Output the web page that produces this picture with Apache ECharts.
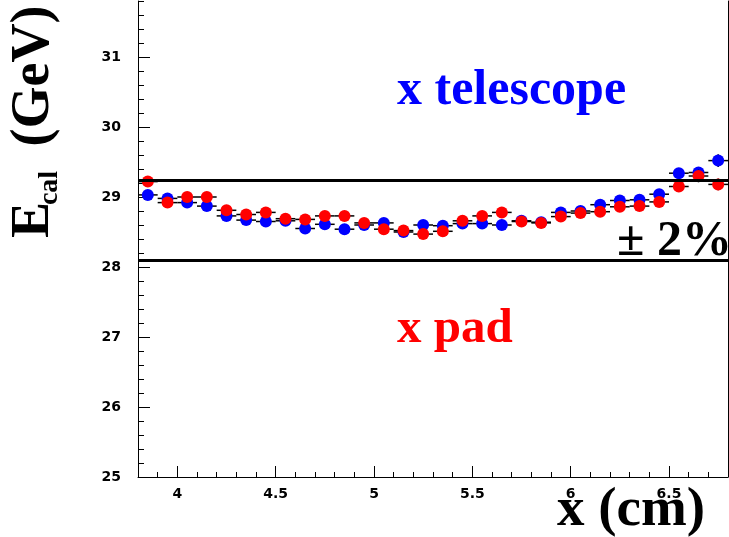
<!DOCTYPE html>
<html>
<head>
<meta charset="utf-8">
<script src="https://cdn.jsdelivr.net/npm/echarts@6/dist/echarts.min.js"></script>
<style>
  html, body { margin: 0; padding: 0; background: #ffffff; }
  #chart { width: 729px; height: 537px; }
</style>
</head>
<body>
<div id="chart"></div>
<script>
// Bin centres along x (cm)
const xCenters = [3.85, 3.95, 4.05, 4.15, 4.25, 4.35, 4.45, 4.55, 4.65, 4.75,
                  4.85, 4.95, 5.05, 5.15, 5.25, 5.35, 5.45, 5.55, 5.65, 5.75,
                  5.85, 5.95, 6.05, 6.15, 6.25, 6.35, 6.45, 6.55, 6.65, 6.75];

// Mean calorimeter energy (GeV), position from the telescope
const telescope = [29.03, 28.98, 28.92, 28.87, 28.73, 28.67, 28.65, 28.66, 28.55, 28.61,
                   28.54, 28.60, 28.63, 28.50, 28.60, 28.59, 28.62, 28.62, 28.60, 28.66,
                   28.64, 28.78, 28.80, 28.89, 28.95, 28.96, 29.04, 29.34, 29.35, 29.52];
const telescopeErr = [0.03, 0.03, 0.03, 0.03, 0.03, 0.03, 0.03, 0.03, 0.03, 0.03,
                      0.03, 0.03, 0.03, 0.03, 0.03, 0.03, 0.03, 0.03, 0.03, 0.03,
                      0.03, 0.03, 0.03, 0.03, 0.03, 0.03, 0.04, 0.05, 0.06, 0.09];

// Mean calorimeter energy (GeV), position from the pad
const pad = [29.22, 28.92, 29.00, 29.00, 28.81, 28.75, 28.78, 28.69, 28.68, 28.73,
             28.73, 28.63, 28.54, 28.52, 28.47, 28.51, 28.66, 28.73, 28.78, 28.65,
             28.63, 28.72, 28.77, 28.79, 28.86, 28.87, 28.93, 29.15, 29.30, 29.18];
const padErr = [0.04, 0.03, 0.03, 0.03, 0.03, 0.03, 0.03, 0.03, 0.03, 0.03,
                0.03, 0.03, 0.03, 0.03, 0.03, 0.03, 0.03, 0.03, 0.03, 0.03,
                0.03, 0.03, 0.03, 0.03, 0.03, 0.03, 0.04, 0.05, 0.09, 0.085];

const binHalfWidth = 0.05;
// +/- 2% band around the mean response
const bandLines = [29.24, 28.10];

const xMajorTicks = [4, 4.5, 5, 5.5, 6, 6.5];
const yMajorTicks = [25, 26, 27, 28, 29, 30, 31];

const X_MIN = 3.8, X_MAX = 6.8, Y_MIN = 25, Y_MAX = 31.8;
const labelFont = { color: '#000', fontFamily: 'DejaVu Sans', fontWeight: 'bold', fontSize: 14 };
const serif = 'Liberation Serif';

function errorMarker(color) {
  return function (params, api) {
    const x = api.value(0), y = api.value(1), e = api.value(2);
    const c = api.coord([x, y]);
    const l = api.coord([x - binHalfWidth, y]);
    const r = api.coord([x + binHalfWidth, y]);
    const t = api.coord([x, y + e]);
    const b = api.coord([x, y - e]);
    return {
      type: 'group',
      children: [
        { type: 'line', shape: { x1: l[0], y1: l[1], x2: r[0], y2: r[1] },
          style: { stroke: '#000', lineWidth: 1.5 } },
        { type: 'line', shape: { x1: t[0], y1: t[1], x2: b[0], y2: b[1] },
          style: { stroke: '#000', lineWidth: 1.5 } },
        { type: 'circle', shape: { cx: c[0], cy: c[1], r: 6 },
          style: { fill: color } }
      ]
    };
  };
}

const chart = echarts.init(document.getElementById('chart'), null, { renderer: 'canvas' });

chart.setOption({
  animation: false,
  backgroundColor: '#ffffff',
  grid: { left: 138, right: 1, top: 1, bottom: 60, containLabel: false },
  xAxis: [
    { // minor ticks every 0.1
      type: 'value', position: 'bottom', min: X_MIN, max: X_MAX, interval: 0.1,
      axisLine: { show: true, lineStyle: { color: '#000', width: 1 } },
      axisTick: { show: true, inside: true, length: 5, lineStyle: { color: '#000', width: 1 } },
      axisLabel: { show: false },
      splitLine: { show: false }
    },
    { // major ticks and labels
      type: 'value', position: 'bottom', min: X_MIN, max: X_MAX,
      axisLine: { show: false },
      axisTick: { show: true, inside: true, length: 11, customValues: xMajorTicks,
                  lineStyle: { color: '#000', width: 1 } },
      axisLabel: Object.assign({ show: true, margin: 10, customValues: xMajorTicks }, labelFont),
      splitLine: { show: false }
    }
  ],
  yAxis: [
    { // minor ticks every 0.2
      type: 'value', position: 'left', min: Y_MIN, max: Y_MAX, interval: 0.2,
      axisLine: { show: true, lineStyle: { color: '#000', width: 1 } },
      axisTick: { show: true, inside: true, length: 6, lineStyle: { color: '#000', width: 1 } },
      axisLabel: { show: false },
      splitLine: { show: false }
    },
    { // major ticks and labels
      type: 'value', position: 'left', min: Y_MIN, max: Y_MAX,
      axisLine: { show: false },
      axisTick: { show: true, inside: true, length: 12, customValues: yMajorTicks,
                  lineStyle: { color: '#000', width: 1 } },
      axisLabel: Object.assign({ show: true, margin: 17, customValues: yMajorTicks }, labelFont),
      splitLine: { show: false }
    },
    { // right frame edge
      type: 'value', position: 'right', min: Y_MIN, max: Y_MAX,
      axisLine: { show: true, lineStyle: { color: '#000', width: 1 } },
      axisTick: { show: false }, axisLabel: { show: false }, splitLine: { show: false }
    }
  ],
  series: [
    {
      name: 'band', type: 'scatter', data: [], z: 1,
      markLine: {
        silent: true, symbol: 'none',
        label: { show: false },
        lineStyle: { color: '#000', width: 3, type: 'solid' },
        data: bandLines.map(v => ({ yAxis: v }))
      }
    },
    {
      name: 'x telescope', type: 'custom', coordinateSystem: 'cartesian2d',
      xAxisIndex: 0, yAxisIndex: 0, z: 3,
      renderItem: errorMarker('#0000ff'),
      data: xCenters.map((x, i) => [x, telescope[i], telescopeErr[i]])
    },
    {
      name: 'x pad', type: 'custom', coordinateSystem: 'cartesian2d',
      xAxisIndex: 0, yAxisIndex: 0, z: 4,
      renderItem: errorMarker('#ff0000'),
      data: xCenters.map((x, i) => [x, pad[i], padErr[i]])
    }
  ],
  graphic: [
    { type: 'text', x: 397, y: 91, z: 10,
      style: { text: 'x telescope', fill: '#0000ff', font: 'bold 50px "' + serif + '"',
               align: 'left', verticalAlign: 'middle' } },
    { type: 'text', x: 397, y: 329, z: 10,
      style: { text: 'x pad', fill: '#ff0000', font: 'bold 49px "' + serif + '"',
               align: 'left', verticalAlign: 'middle' } },
    { type: 'text', x: 617, y: 242, z: 10,
      style: { text: '± 2%', fill: '#000', font: 'bold 50px "' + serif + '"',
               align: 'left', verticalAlign: 'middle' } },
    { type: 'text', x: 557, y: 511, z: 10,
      style: { text: 'x (cm)', fill: '#000', font: 'bold 55px "' + serif + '"',
               align: 'left', verticalAlign: 'middle' } },
    { type: 'text', x: 34, y: 220, rotation: Math.PI / 2, z: 10,
      style: { text: 'E', fill: '#000', font: 'bold 54px "' + serif + '"',
               align: 'center', verticalAlign: 'middle' } },
    { type: 'text', x: 50, y: 188, rotation: Math.PI / 2, z: 10,
      style: { text: 'cal', fill: '#000', font: 'bold 28px "' + serif + '"',
               align: 'center', verticalAlign: 'middle' } },
    { type: 'text', x: 34, y: 76, rotation: Math.PI / 2, z: 10,
      style: { text: '(GeV)', fill: '#000', font: 'bold 54px "' + serif + '"',
               align: 'center', verticalAlign: 'middle' } }
  ]
});
</script>
</body>
</html>
